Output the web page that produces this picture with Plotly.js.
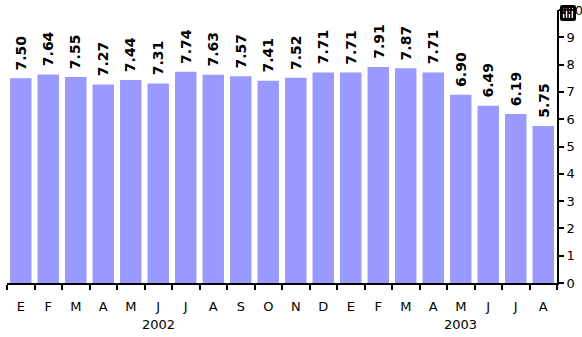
<!DOCTYPE html>
<html>
<head>
<meta charset="utf-8">
<script src="https://cdn.plot.ly/plotly-3.0.1.min.js"></script>
</head>
<body style="margin:0;background:#fff">
<div id="chart" style="width:582px;height:337px"></div>
<script>
// Monthly rate, Jan 2002 – Aug 2003
const months = ['E', 'F', 'M', 'A', 'M', 'J', 'J', 'A', 'S', 'O', 'N', 'D',
                'E', 'F', 'M', 'A', 'M', 'J', 'J', 'A'];
const years = ['2002', '2002', '2002', '2002', '2002', '2002', '2002', '2002', '2002', '2002', '2002', '2002',
               '2003', '2003', '2003', '2003', '2003', '2003', '2003', '2003'];
const values = [7.50, 7.64, 7.55, 7.27, 7.44, 7.31, 7.74, 7.63, 7.57, 7.41, 7.52, 7.71,
                7.71, 7.91, 7.87, 7.71, 6.90, 6.49, 6.19, 5.75];
const yTicks = [0, 1, 2, 3, 4, 5, 6, 7, 8, 9, 10];

// unique category keys so that repeated month letters stay separate bars
const keys = months.map((m, i) => m + ' #' + i);

// vertical value labels above each bar
const valueAnn = values.map((v, i) => ({
  x: keys[i], y: v, yanchor: 'bottom', yshift: 6,
  text: '<b>' + v.toFixed(2) + '</b>', textangle: -90, showarrow: false,
  font: { family: 'DejaVu Sans', size: 14, color: '#000' }
}));

// one year caption under each group of months
const yearGroups = [...new Set(years)];
const yearAnn = yearGroups.map(y => {
  const idx = years.map((v, i) => v === y ? i : -1).filter(i => i >= 0);
  const mid = idx[Math.floor((idx.length - 1) / 2 + (idx.length % 2 === 0 && idx.length < 10 ? 1 : 0))];
  return {
    x: keys[mid], y: 0, yref: 'paper',
    yanchor: 'top', yshift: -32,
    text: y, showarrow: false,
    font: { family: 'DejaVu Sans', size: 13, color: '#000' }
  };
});

const layout = {
  width: 582, height: 337,
  margin: { l: 7, r: 25, t: 10, b: 54 },
  bargap: 0.22,
  showlegend: false,
  font: { family: 'DejaVu Sans', size: 13, color: '#000' },
  // keep the toolbar invisible
  modebar: { bgcolor: 'rgba(0,0,0,0)', color: 'rgba(0,0,0,0)', activecolor: 'rgba(0,0,0,0)' },
  xaxis: {
    type: 'category',
    tickmode: 'array', tickvals: keys, ticktext: months,
    tickson: 'boundaries',
    ticks: 'outside', ticklen: 5, tickwidth: 2, tickcolor: '#000',
    ticklabelstandoff: 10,
    showline: true, linecolor: '#000', linewidth: 2,
    showgrid: false, zeroline: false
  },
  yaxis: {
    side: 'right',
    range: [0, 10],
    tickmode: 'array', tickvals: yTicks,
    ticks: 'outside', ticklen: 5, tickwidth: 2, tickcolor: '#000',
    showline: true, linecolor: '#000', linewidth: 2,
    showgrid: false, zeroline: false
  },
  annotations: valueAnn.concat(yearAnn)
};

Plotly.newPlot('chart', [{
  type: 'bar', x: keys, y: values,
  marker: { color: '#9999FF' },
  hoverinfo: 'none'
}], layout);
</script>
</body>
</html>
